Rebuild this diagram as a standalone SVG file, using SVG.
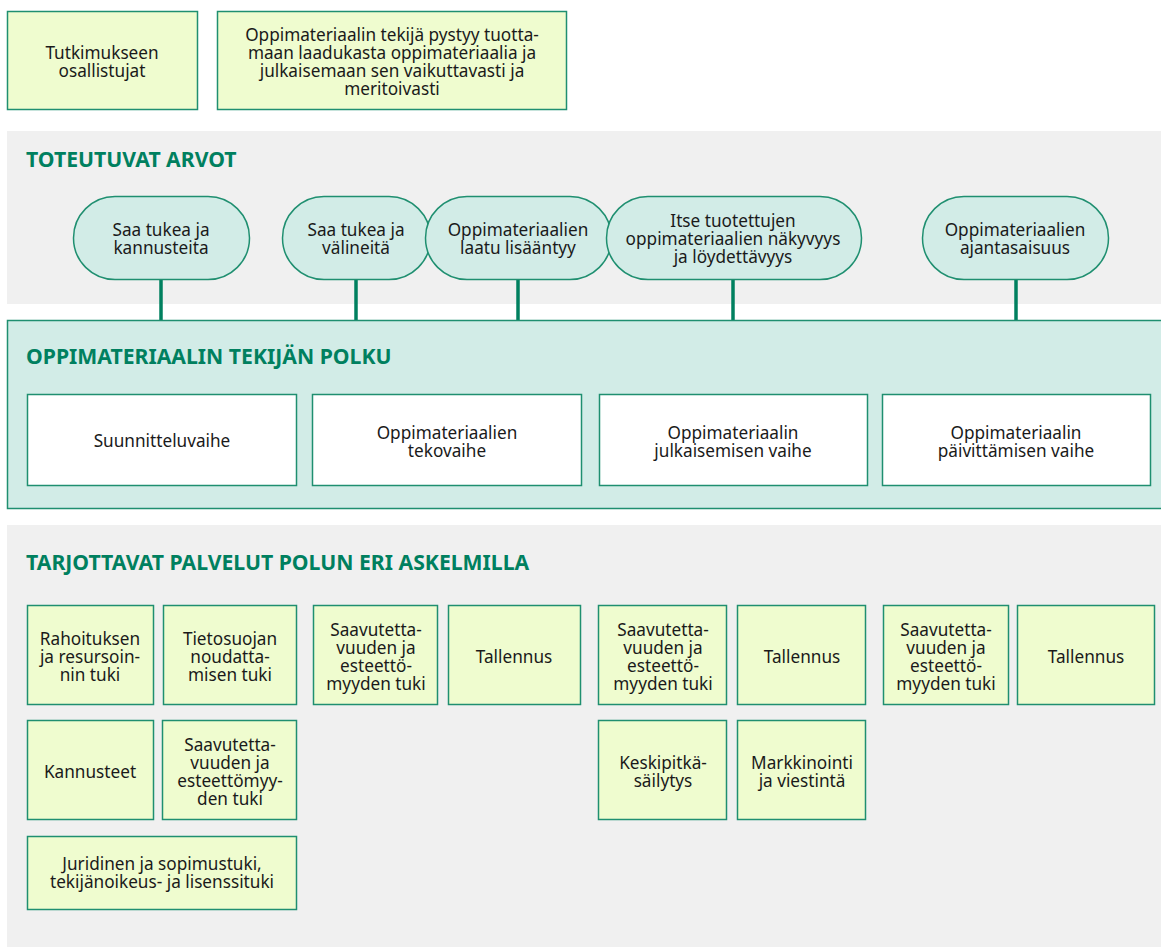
<svg xmlns="http://www.w3.org/2000/svg" width="1161" height="947" viewBox="0 0 1161 947">
<style>
text{font-family:"Noto Sans","Open Sans","Liberation Sans",sans-serif;font-size:17.2px;fill:#1a1a1a;text-anchor:middle}
.title{font-size:21.2px;font-weight:bold;fill:#00805f;text-anchor:start}
.svc{fill:#effccf;stroke:#1f8f70;stroke-width:1.5}
.pill{fill:#d2ece7;stroke:#1f8f70;stroke-width:1.5}
.stage{fill:#ffffff;stroke:#1f8f70;stroke-width:1.5}
.panel{fill:#f0f0f0}
.conn{stroke:#00805f;stroke-width:3.5}
</style>
<rect width="1161" height="947" fill="#ffffff"/>
<g id="top1"><rect class="svc" x="7.5" y="11.5" width="190" height="98"/><text x="102" y="59">Tutkimukseen</text><text x="102" y="77">osallistujat</text></g>
<g id="top2"><rect class="svc" x="217.5" y="11.5" width="349" height="98"/><text x="392" y="41">Oppimateriaalin tekijä pystyy tuotta-</text><text x="392" y="59">maan laadukasta oppimateriaalia ja</text><text x="392" y="77">julkaisemaan sen vaikuttavasti ja</text><text x="392" y="95">meritoivasti</text></g>
<rect class="panel" x="7" y="131" width="1154" height="173"/>
<text class="title" x="26" y="167">TOTEUTUVAT ARVOT</text>
<g id="connectors">
<line class="conn" x1="161" y1="280" x2="161" y2="321"/>
<line class="conn" x1="356" y1="280" x2="356" y2="321"/>
<line class="conn" x1="518" y1="280" x2="518" y2="321"/>
<line class="conn" x1="733" y1="280" x2="733" y2="321"/>
<line class="conn" x1="1016" y1="280" x2="1016" y2="321"/>
</g>
<g id="v1"><rect class="pill" x="73.5" y="196.5" width="176" height="83" rx="41.5"/><text x="161" y="236">Saa tukea ja</text><text x="161" y="254">kannusteita</text></g>
<g id="v2"><rect class="pill" x="282.5" y="196.5" width="148" height="83" rx="41.5"/><text x="356" y="236">Saa tukea ja</text><text x="356" y="254">välineitä</text></g>
<g id="v3"><rect class="pill" x="425.5" y="196.5" width="186" height="83" rx="41.5"/><text x="518" y="236">Oppimateriaalien</text><text x="518" y="254">laatu lisääntyy</text></g>
<g id="v4"><rect class="pill" x="606.5" y="196.5" width="255" height="83" rx="41.5"/><text x="733" y="227">Itse tuotettujen</text><text x="733" y="245">oppimateriaalien näkyvyys</text><text x="733" y="263">ja löydettävyys</text></g>
<g id="v5"><rect class="pill" x="922.5" y="196.5" width="186" height="83" rx="41.5"/><text x="1015" y="236">Oppimateriaalien</text><text x="1015" y="254">ajantasaisuus</text></g>
<g id="path"><rect x="7.5" y="320.5" width="1160" height="188" fill="#d2ece7" stroke="#1f8f70" stroke-width="1.5"/><text class="title" x="26" y="364">OPPIMATERIAALIN TEKIJÄN POLKU</text></g>
<g id="s1"><rect class="stage" x="27.5" y="394.5" width="269" height="91"/><text x="162" y="447">Suunnitteluvaihe</text></g>
<g id="s2"><rect class="stage" x="312.5" y="394.5" width="269" height="91"/><text x="447" y="439">Oppimateriaalien</text><text x="447" y="457">tekovaihe</text></g>
<g id="s3"><rect class="stage" x="599.5" y="394.5" width="268" height="91"/><text x="733" y="439">Oppimateriaalin</text><text x="733" y="457">julkaisemisen vaihe</text></g>
<g id="s4"><rect class="stage" x="882.5" y="394.5" width="268" height="91"/><text x="1016" y="439">Oppimateriaalin</text><text x="1016" y="457">päivittämisen vaihe</text></g>
<rect class="panel" x="7" y="525" width="1154" height="422"/>
<text class="title" x="26" y="570">TARJOTTAVAT PALVELUT POLUN ERI ASKELMILLA</text>
<g id="p1"><rect class="svc" x="27.5" y="605.5" width="126" height="99"/><text x="90" y="645">Rahoituksen</text><text x="90" y="663">ja resursoin-</text><text x="90" y="681">nin tuki</text></g>
<g id="p2"><rect class="svc" x="163.5" y="605.5" width="133" height="99"/><text x="230" y="645">Tietosuojan</text><text x="230" y="663">noudatta-</text><text x="230" y="681">misen tuki</text></g>
<g id="p3"><rect class="svc" x="313.5" y="605.5" width="124" height="99"/><text x="376" y="636">Saavutetta-</text><text x="376" y="654">vuuden ja</text><text x="376" y="672">esteettö-</text><text x="376" y="690">myyden tuki</text></g>
<g id="p4"><rect class="svc" x="448.5" y="605.5" width="132" height="99"/><text x="514" y="663">Tallennus</text></g>
<g id="p5"><rect class="svc" x="598.5" y="605.5" width="128" height="99"/><text x="663" y="636">Saavutetta-</text><text x="663" y="654">vuuden ja</text><text x="663" y="672">esteettö-</text><text x="663" y="690">myyden tuki</text></g>
<g id="p6"><rect class="svc" x="737.5" y="605.5" width="128" height="99"/><text x="802" y="663">Tallennus</text></g>
<g id="p7"><rect class="svc" x="883.5" y="605.5" width="125" height="99"/><text x="946" y="636">Saavutetta-</text><text x="946" y="654">vuuden ja</text><text x="946" y="672">esteettö-</text><text x="946" y="690">myyden tuki</text></g>
<g id="p8"><rect class="svc" x="1017.5" y="605.5" width="137" height="99"/><text x="1086" y="663">Tallennus</text></g>
<g id="p9"><rect class="svc" x="27.5" y="720.5" width="126" height="99"/><text x="90" y="778">Kannusteet</text></g>
<g id="p10"><rect class="svc" x="162.5" y="720.5" width="134" height="99"/><text x="230" y="751">Saavutetta-</text><text x="230" y="769">vuuden ja</text><text x="230" y="787">esteettömyy-</text><text x="230" y="805">den tuki</text></g>
<g id="p11"><rect class="svc" x="598.5" y="720.5" width="128" height="99"/><text x="663" y="769">Keskipitkä-</text><text x="663" y="787">säilytys</text></g>
<g id="p12"><rect class="svc" x="737.5" y="720.5" width="128" height="99"/><text x="802" y="769">Markkinointi</text><text x="802" y="787">ja viestintä</text></g>
<g id="p13"><rect class="svc" x="27.5" y="836.5" width="269" height="73"/><text x="162" y="870">Juridinen ja sopimustuki,</text><text x="162" y="888">tekijänoikeus- ja lisenssituki</text></g>
</svg>
